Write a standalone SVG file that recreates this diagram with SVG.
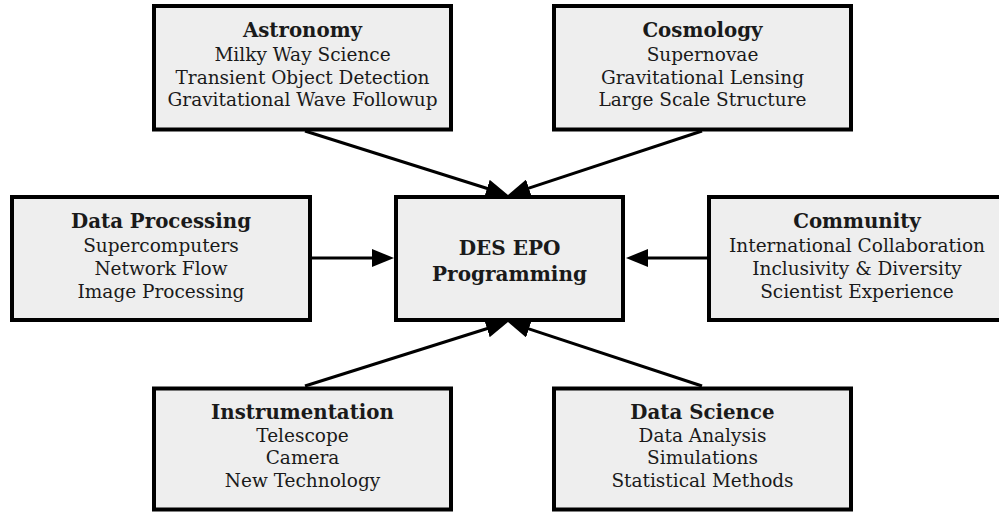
<svg xmlns="http://www.w3.org/2000/svg" width="999" height="512" viewBox="0 0 999 512">
  <defs>
    <marker id="arr" markerUnits="userSpaceOnUse" markerWidth="22" markerHeight="18" refX="12" refY="9" orient="auto">
      <path d="M0,0 L22,9 L0,18 z" fill="#000"/>
    </marker>
    <style>
      .box { fill: #eeeeee; stroke: #000; stroke-width: 4; }
      .t { font-family: "DejaVu Serif", "Liberation Serif", serif; font-weight: bold; font-size: 19.8px; fill: #1a1a1a; text-anchor: middle; }
      .l { font-family: "DejaVu Serif", "Liberation Serif", serif; font-size: 18.5px; fill: #1a1a1a; text-anchor: middle; }
      .c { fill: none; stroke: #000; stroke-width: 3; marker-end: url(#arr); }
    </style>
  </defs>
  <rect width="999" height="512" fill="#ffffff"/>

  <g id="connectors">
    <line class="c" x1="305" y1="131" x2="498.46" y2="191.99"/>
    <line class="c" x1="702" y1="131" x2="517.5" y2="191.87"/>
    <line class="c" x1="312" y1="258" x2="384" y2="258"/>
    <line class="c" x1="707" y1="258" x2="636" y2="258"/>
    <line class="c" x1="305" y1="386" x2="498.46" y2="325.01"/>
    <line class="c" x1="702" y1="386" x2="517.5" y2="325.13"/>
  </g>

  <g id="astronomy">
    <rect class="box" x="154" y="6" width="297" height="123.5"/>
    <text class="t" x="302.5" y="36.7">Astronomy</text>
    <text class="l" x="302.5" y="61">Milky Way Science</text>
    <text class="l" x="302.5" y="83.5">Transient Object Detection</text>
    <text class="l" x="302.5" y="106">Gravitational Wave Followup</text>
  </g>

  <g id="cosmology">
    <rect class="box" x="554" y="6" width="297" height="123.5"/>
    <text class="t" x="702.5" y="36.7">Cosmology</text>
    <text class="l" x="702.5" y="61">Supernovae</text>
    <text class="l" x="702.5" y="83.5">Gravitational Lensing</text>
    <text class="l" x="702.5" y="106">Large Scale Structure</text>
  </g>

  <g id="data-processing">
    <rect class="box" x="12" y="197" width="298" height="123"/>
    <text class="t" x="161" y="228.3">Data Processing</text>
    <text class="l" x="161" y="251.7">Supercomputers</text>
    <text class="l" x="161" y="275">Network Flow</text>
    <text class="l" x="161" y="297.7">Image Processing</text>
  </g>

  <g id="des-epo">
    <rect class="box" x="396" y="197" width="227" height="123"/>
    <text class="t" x="509.5" y="255" style="font-size:20px">DES EPO</text>
    <text class="t" x="509.5" y="280.7" style="font-size:20px">Programming</text>
  </g>

  <g id="community">
    <rect class="box" x="709" y="197" width="298" height="123"/>
    <text class="t" x="857" y="228.3">Community</text>
    <text class="l" x="857" y="251.7">International Collaboration</text>
    <text class="l" x="857" y="275">Inclusivity &amp; Diversity</text>
    <text class="l" x="857" y="297.7">Scientist Experience</text>
  </g>

  <g id="instrumentation">
    <rect class="box" x="154" y="388.5" width="297" height="121"/>
    <text class="t" x="302.5" y="419">Instrumentation</text>
    <text class="l" x="302.5" y="441.7">Telescope</text>
    <text class="l" x="302.5" y="464">Camera</text>
    <text class="l" x="302.5" y="486.7">New Technology</text>
  </g>

  <g id="data-science">
    <rect class="box" x="554" y="388.5" width="297" height="121"/>
    <text class="t" x="702.5" y="419">Data Science</text>
    <text class="l" x="702.5" y="441.7">Data Analysis</text>
    <text class="l" x="702.5" y="464">Simulations</text>
    <text class="l" x="702.5" y="486.7">Statistical Methods</text>
  </g>
</svg>
